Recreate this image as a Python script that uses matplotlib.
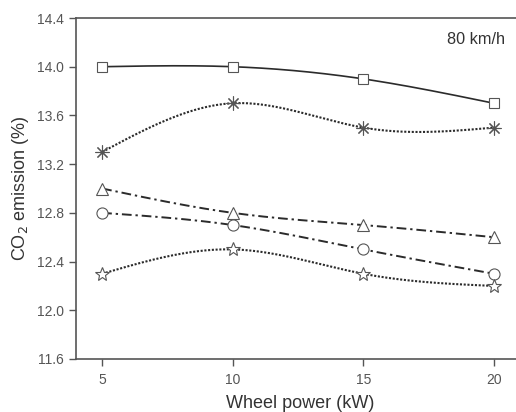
import numpy as np
import matplotlib
matplotlib.use("Agg")
import matplotlib.pyplot as plt

plt.rcParams['font.family'] = ['Liberation Sans', 'DejaVu Sans']

power = [5, 10, 15, 20]
series_square = [14.0, 14.0, 13.9, 13.7]
series_asterisk = [13.3, 13.7, 13.5, 13.5]
series_triangle = [13.0, 12.8, 12.7, 12.6]
series_circle = [12.8, 12.7, 12.5, 12.3]
series_star = [12.3, 12.5, 12.3, 12.2]
yticks = [11.6, 12.0, 12.4, 12.8, 13.2, 13.6, 14.0, 14.4]
xticks = [5, 10, 15, 20]


def natural_spline(x, y, n=200):
    x = np.asarray(x, float); y = np.asarray(y, float)
    k = len(x)
    h = np.diff(x)
    A = np.zeros((k, k)); b = np.zeros(k)
    A[0, 0] = 1; A[-1, -1] = 1
    for i in range(1, k - 1):
        A[i, i - 1] = h[i - 1]; A[i, i] = 2 * (h[i - 1] + h[i]); A[i, i + 1] = h[i]
        b[i] = 3 * ((y[i + 1] - y[i]) / h[i] - (y[i] - y[i - 1]) / h[i - 1])
    c = np.linalg.solve(A, b)
    xs = np.linspace(x[0], x[-1], n)
    ys = np.empty_like(xs)
    for j, xv in enumerate(xs):
        i = min(np.searchsorted(x, xv, side='right') - 1, k - 2)
        dx = xv - x[i]
        bi = (y[i + 1] - y[i]) / h[i] - h[i] * (2 * c[i] + c[i + 1]) / 3
        di = (c[i + 1] - c[i]) / (3 * h[i])
        ys[j] = y[i] + bi * dx + c[i] * dx ** 2 + di * dx ** 3
    return xs, ys


fig = plt.figure(figsize=(5.16, 4.12), dpi=100)
ax = fig.add_axes([76 / 516, 53 / 412, 444 / 516, 341 / 412])

col = "#2b2b2b"
specs = [
    (series_square, "-", "s", 7, 1.2),
    (series_asterisk, (0, (1, 0.8)), (8, 2, 0), 10, 1.5),
    (series_triangle, (0, (5, 2, 1.2, 2)), "^", 8, 1.4),
    (series_circle, (0, (5, 2, 1.2, 2)), "o", 8, 1.4),
    (series_star, (0, (1, 0.8)), "*", 10, 1.5),
]
for ys, ls, mk, ms, lw in specs:
    sx, sy = natural_spline(power, ys)
    ax.plot(sx, sy, color=col, linestyle=ls, linewidth=lw, zorder=2)
    ax.plot(power, ys, linestyle="none", marker=mk, markersize=ms,
            markerfacecolor="white", markeredgecolor="#555555",
            markeredgewidth=0.8, zorder=3)

ax.set_xlim(4, 21)
ax.set_ylim(11.6, 14.4)
ax.set_xticks(xticks)
ax.set_yticks(yticks)
ax.set_yticklabels([f"{v:.1f}" for v in yticks])
for s in ax.spines.values():
    s.set_color("#555555")
    s.set_linewidth(1.2)
ax.spines['right'].set_visible(False)
ax.tick_params(direction="out", length=5, width=1, colors="#555555",
               labelsize=10, labelcolor="#555555")
ax.tick_params(axis="x", pad=5)
ax.set_xlabel("Wheel power (kW)", fontsize=13, color="#333333", va="center")
ax.xaxis.set_label_coords((300 - 76) / 444, (359 - 404) / 341)
ax.set_ylabel("CO$_2$ emission (%)", fontsize=13, color="#333333", va="center")
ax.yaxis.set_label_coords((21 - 76) / 444, 0.5)
ax.text(20.42, 14.22, "80 km/h", ha="right", va="center", fontsize=11.7,
        color="#333333")

fig.savefig("out.png", dpi=100)
